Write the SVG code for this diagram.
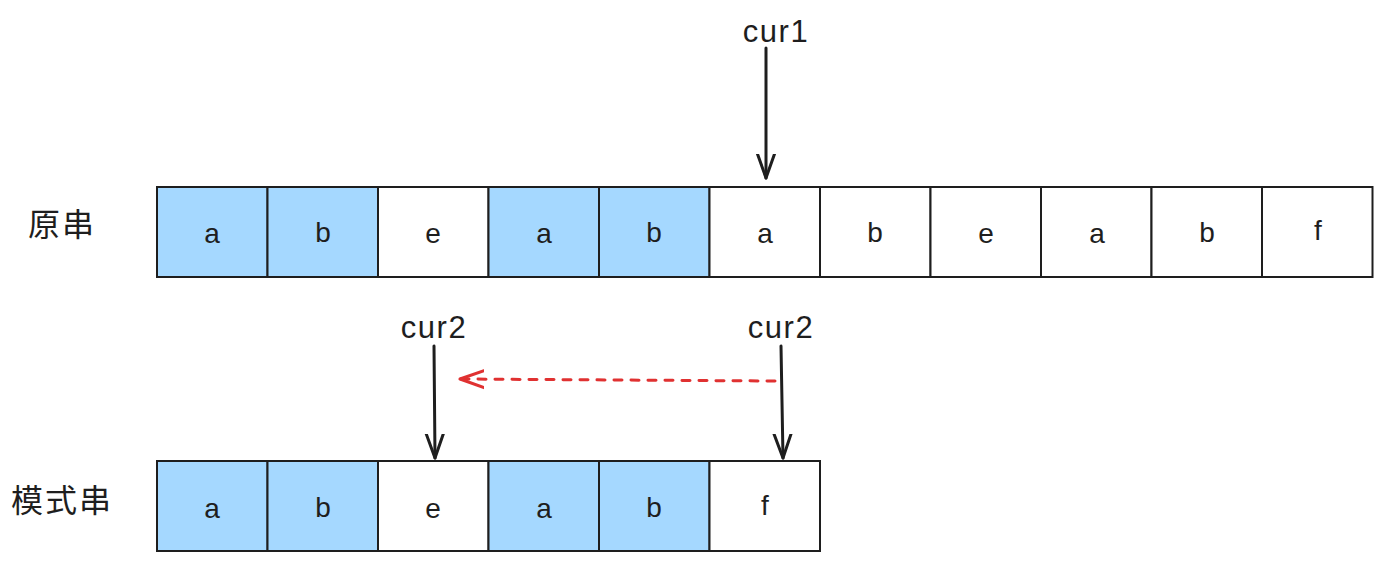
<svg xmlns="http://www.w3.org/2000/svg" width="1384" height="562" viewBox="0 0 1384 562">
<style>
.cell{stroke:#1e1e1e;stroke-width:2;fill:#ffffff}
.hl{fill:#a5d8ff}
.t{font-family:"Liberation Sans","Noto Sans CJK SC",sans-serif;font-size:28px;fill:#1e1e1e;text-anchor:middle;dominant-baseline:central}
.c{font-family:"Liberation Sans",sans-serif;font-size:31px;fill:#1e1e1e;text-anchor:middle;dominant-baseline:central;letter-spacing:1.5px}
.lbl{font-family:"Noto Sans CJK SC","Liberation Sans",sans-serif;font-size:32px;fill:#1e1e1e;dominant-baseline:central;letter-spacing:2px}
.arr{stroke:#1e1e1e;stroke-width:3;fill:none;stroke-linecap:round}
.red{stroke:#e03131;stroke-width:3;fill:none;stroke-linecap:round;stroke-dasharray:8 9}
</style>
<defs>
<marker id="ah" markerWidth="30" markerHeight="30" refX="24" refY="10" orient="auto" markerUnits="userSpaceOnUse" viewBox="0 0 30 20">
<path d="M0,1.5 L24,10 L0,18.5" fill="none" stroke="#1e1e1e" stroke-width="3" stroke-linecap="round" stroke-linejoin="round"/>
</marker>
<marker id="ahr" markerWidth="30" markerHeight="30" refX="24" refY="10" orient="auto" markerUnits="userSpaceOnUse" viewBox="0 0 30 20">
<path d="M0,1.5 L24,10 L0,18.5" fill="none" stroke="#e03131" stroke-width="3" stroke-linecap="round" stroke-linejoin="round"/>
</marker>
</defs>
<rect width="1384" height="562" fill="#ffffff"/>
<g id="label-main"><text class="lbl" x="28" y="222">原串</text></g>
<g id="label-pattern"><text class="lbl" x="11" y="498">模式串</text></g>
<g id="main-string">
<g id="m0"><rect class="cell hl" x="157" y="187" width="110.5" height="90"/><text class="t" x="212" y="233">a</text></g>
<g id="m1"><rect class="cell hl" x="267.5" y="187" width="110.5" height="90"/><text class="t" x="323" y="232">b</text></g>
<g id="m2"><rect class="cell" x="378" y="187" width="110.5" height="90"/><text class="t" x="433" y="233">e</text></g>
<g id="m3"><rect class="cell hl" x="488.5" y="187" width="110.5" height="90"/><text class="t" x="544" y="233">a</text></g>
<g id="m4"><rect class="cell hl" x="599" y="187" width="110.5" height="90"/><text class="t" x="654" y="232">b</text></g>
<g id="m5"><rect class="cell" x="709.5" y="187" width="110.5" height="90"/><text class="t" x="765" y="233">a</text></g>
<g id="m6"><rect class="cell" x="820" y="187" width="110.5" height="90"/><text class="t" x="875" y="232">b</text></g>
<g id="m7"><rect class="cell" x="930.5" y="187" width="110.5" height="90"/><text class="t" x="986" y="233">e</text></g>
<g id="m8"><rect class="cell" x="1041" y="187" width="110.5" height="90"/><text class="t" x="1097" y="233">a</text></g>
<g id="m9"><rect class="cell" x="1151.5" y="187" width="110.5" height="90"/><text class="t" x="1207" y="232">b</text></g>
<g id="m10"><rect class="cell" x="1262" y="187" width="110.5" height="90"/><text class="t" x="1318" y="230">f</text></g>
</g>
<g id="pattern-string">
<g id="p0"><rect class="cell hl" x="157" y="461" width="110.5" height="90"/><text class="t" x="212" y="508">a</text></g>
<g id="p1"><rect class="cell hl" x="267.5" y="461" width="110.5" height="90"/><text class="t" x="323" y="507">b</text></g>
<g id="p2"><rect class="cell" x="378" y="461" width="110.5" height="90"/><text class="t" x="433" y="508">e</text></g>
<g id="p3"><rect class="cell hl" x="488.5" y="461" width="110.5" height="90"/><text class="t" x="544" y="508">a</text></g>
<g id="p4"><rect class="cell hl" x="599" y="461" width="110.5" height="90"/><text class="t" x="654" y="507">b</text></g>
<g id="p5"><rect class="cell" x="709.5" y="461" width="110.5" height="90"/><text class="t" x="765" y="505">f</text></g>
</g>
<g id="cur1-label"><text class="c" x="776" y="31">cur1</text></g>
<g id="cur2-left-label"><text class="c" x="434" y="327">cur2</text></g>
<g id="cur2-right-label"><text class="c" x="781" y="327">cur2</text></g>
<g id="connectors">
<line class="arr" x1="766" y1="48" x2="766" y2="178" marker-end="url(#ah)"/>
<line class="arr" x1="434" y1="346" x2="435" y2="458" marker-end="url(#ah)"/>
<line class="arr" x1="781" y1="346" x2="783" y2="458" marker-end="url(#ah)"/>
<line class="red" x1="775" y1="381" x2="460" y2="379" marker-end="url(#ahr)"/>
</g>
</svg>
